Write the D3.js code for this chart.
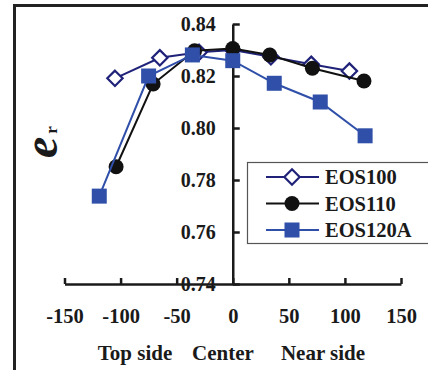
<!DOCTYPE html>
<html><head><meta charset="utf-8">
<script src="https://cdn.jsdelivr.net/npm/d3@7"></script>
<style>
html,body{margin:0;padding:0;background:#fff;}
svg{display:block;}
text{font-family:"Liberation Serif","Times New Roman",serif;font-weight:bold;fill:#1a1a1a;}
</style></head>
<body>
<script>
const xTicks = [-150,-100,-50,0,50,100,150];
const yTicks = [0.74,0.76,0.78,0.80,0.82,0.84];
const seriesNames = ["EOS100","EOS110","EOS120A"];
const xEOS100 = [-105,-65,-30,0,34,70,104];
const yEOS100 = [0.8191,0.8270,0.8291,0.8300,0.8274,0.8245,0.8219];
const xEOS110 = [-104,-71,-34,0,33,71,117];
const yEOS110 = [0.7851,0.8169,0.8297,0.8306,0.8281,0.8230,0.8181];
const xEOS120A = [-119,-75,-36,0,37,78,118];
const yEOS120A = [0.7738,0.8200,0.8281,0.8259,0.8172,0.8100,0.7970];
const bottomLabels = ["Top side","Center","Near side"];

const W=428,H=370;
const svg=d3.select("body").append("svg").attr("width",W).attr("height",H);

// frame
svg.append("path").attr("d","M14.5,370 L14.5,5.5 L428,5.5").attr("fill","none").attr("stroke","#222").attr("stroke-width",3);

const x=d3.scaleLinear().domain([-150,150]).range([64.5,401]);
const y=d3.scaleLinear().domain([0.74,0.84]).range([284,24]);

// y axis
const gy=svg.append("g").attr("transform",`translate(${x(0)},0)`)
  .call(d3.axisLeft(y).tickValues(yTicks).tickFormat(d3.format(".2f")).tickSizeInner(-7).tickSizeOuter(0).tickPadding(17));
gy.selectAll("text").style("font-size","20px").attr("fill","#1a1a1a");
// x axis
const gx=svg.append("g").attr("transform",`translate(0,${y(0.74)})`)
  .call(d3.axisBottom(x).tickValues(xTicks).tickFormat(d=>String(d)).tickSizeInner(-6).tickSizeOuter(0).tickPadding(24));
gx.selectAll("text").style("font-size","20.5px").attr("fill","#1a1a1a");
svg.selectAll(".domain, .tick line").attr("stroke","#1a1a1a").attr("stroke-width",2.5);

const series=[
  {name:seriesNames[0],xs:xEOS100,ys:yEOS100,color:"#1f2278",marker:"diamond"},
  {name:seriesNames[1],xs:xEOS110,ys:yEOS110,color:"#111111",marker:"circle"},
  {name:seriesNames[2],xs:xEOS120A,ys:yEOS120A,color:"#2f4fa9",marker:"square"}
];
const line=d3.line().x(d=>x(d[0])).y(d=>y(d[1]));
function drawMarker(g,type,color,cx,cy){
  if(type==="diamond"){
    g.append("path").attr("d",d3.symbol(d3.symbolDiamond2,150)()).attr("transform",`translate(${cx},${cy})`)
      .attr("fill","#fff").attr("stroke",color).attr("stroke-width",2.2);
  }else if(type==="circle"){
    g.append("circle").attr("cx",cx).attr("cy",cy).attr("r",7.5).attr("fill",color);
  }else{
    g.append("rect").attr("x",cx-7.5).attr("y",cy-7.5).attr("width",15).attr("height",15).attr("fill",color);
  }
}
series.forEach(s=>{
  const pts=s.xs.map((v,i)=>[v,s.ys[i]]);
  const g=svg.append("g");
  g.append("path").datum(pts).attr("d",line).attr("fill","none").attr("stroke",s.color).attr("stroke-width",2);
  pts.forEach(p=>drawMarker(g,s.marker,s.color,x(p[0]),y(p[1])));
});

// legend
const lg=svg.append("g");
lg.append("rect").attr("x",247.5).attr("y",162.5).attr("width",200).attr("height",81).attr("fill","#fff").attr("stroke","#555").attr("stroke-width",1.2);
series.forEach((s,i)=>{
  const ly=177+i*26.5;
  lg.append("line").attr("x1",266).attr("x2",319).attr("y1",ly).attr("y2",ly).attr("stroke",s.color).attr("stroke-width",2);
  drawMarker(lg,s.marker,s.color,292,ly);
  lg.append("text").attr("x",325).attr("y",ly+7).style("font-size","20.5px").text(s.name);
});

// y label
const yl=svg.append("text").attr("transform","translate(57,158) rotate(-90)");
yl.append("tspan").style("font-size","48px").style("font-style","italic").text("e");
yl.append("tspan").attr("dx",3).style("font-size","17px").text("r");

// bottom labels
const bx=[135,223,323];
bottomLabels.forEach((t,i)=>{
  svg.append("text").attr("x",bx[i]).attr("y",360).attr("text-anchor","middle").style("font-size","21px").text(t);
});
</script>
</body></html>
